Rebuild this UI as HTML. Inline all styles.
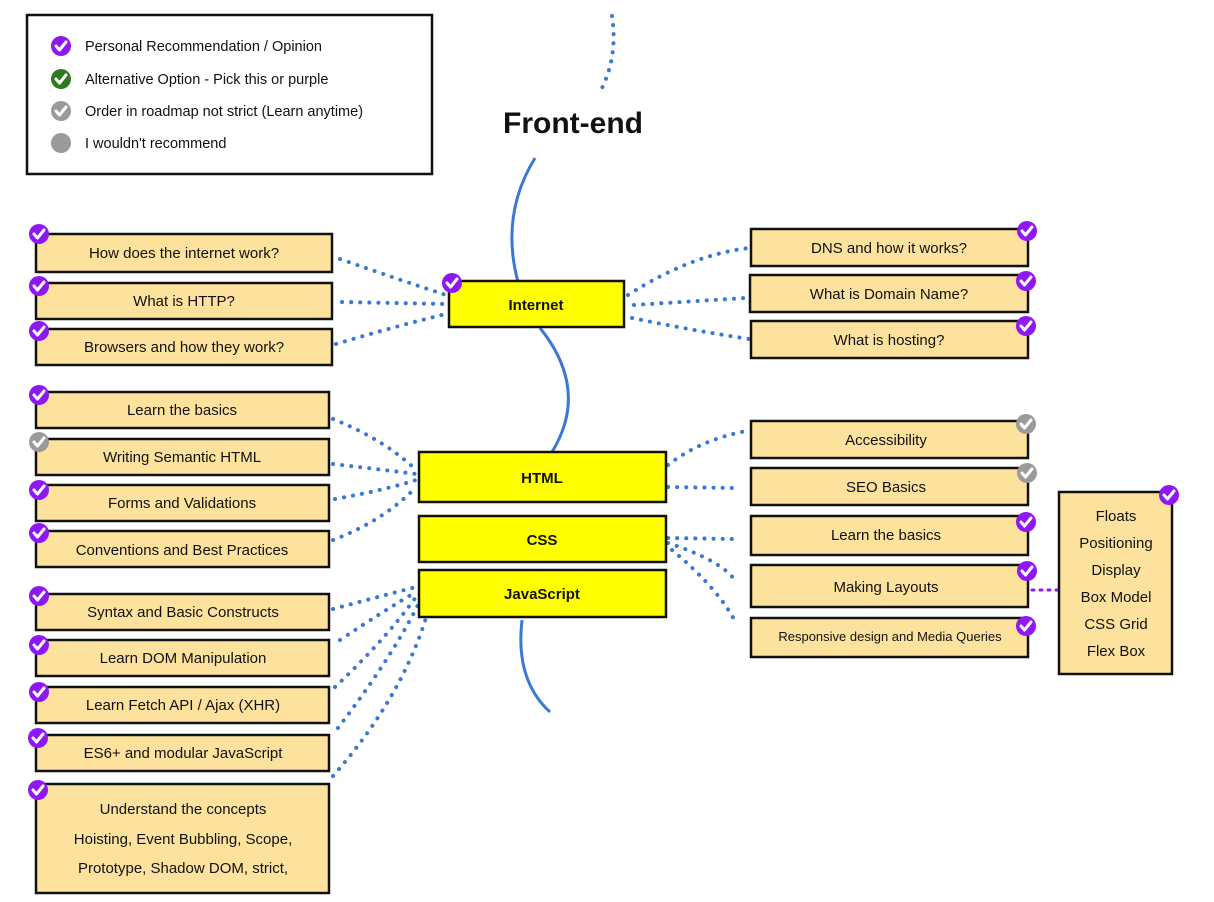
<!DOCTYPE html>
<html><head><meta charset="utf-8"><style>
html,body{margin:0;padding:0;background:#fff;}
svg{display:block;}
text{font-family:"Liberation Sans",sans-serif;font-size:15px;fill:#111;text-anchor:middle;}
.b{fill:#fde29e;stroke:#111;stroke-width:2.5;}
.y{fill:#ffff00;stroke:#111;stroke-width:2.5;}
.d{fill:none;stroke:#3b78d4;stroke-width:4;stroke-linecap:round;stroke-dasharray:0.1 9;}
.s{fill:none;stroke:#3b78d4;stroke-width:3;}
.lt{text-anchor:start;font-size:14.5px;}
</style></head><body>
<svg width="1214" height="902" viewBox="0 0 1214 902" xmlns="http://www.w3.org/2000/svg">
<defs>
<g id="cp"><circle r="10" fill="#8e17f2"/><path d="M-5,0 L-1.5,4 L5,-4" fill="none" stroke="#fff" stroke-width="3" stroke-linecap="round" stroke-linejoin="round"/></g>
<g id="cg"><circle r="10" fill="#9a9a9a"/><path d="M-5,0 L-1.5,4 L5,-4" fill="none" stroke="#fff" stroke-width="3" stroke-linecap="round" stroke-linejoin="round"/></g>
<g id="cgr"><circle r="10" fill="#2f7a1f"/><path d="M-5,0 L-1.5,4 L5,-4" fill="none" stroke="#fff" stroke-width="3" stroke-linecap="round" stroke-linejoin="round"/></g>
</defs>

<rect x="27" y="15" width="405" height="159" fill="#fff" stroke="#111" stroke-width="2.5"/>
<use href="#cp" x="61" y="46"/><use href="#cgr" x="61" y="79"/><use href="#cg" x="61" y="111"/>
<circle cx="61" cy="143" r="10" fill="#9a9a9a"/>
<text class="lt" x="85" y="51">Personal Recommendation / Opinion</text>
<text class="lt" x="85" y="84">Alternative Option - Pick this or purple</text>
<text class="lt" x="85" y="116">Order in roadmap not strict (Learn anytime)</text>
<text class="lt" x="85" y="148">I wouldn't recommend</text>

<path class="d" d="M612,16 Q618,55 602,88"/>
<text x="573" y="133" style="font-size:30px;font-weight:bold">Front-end</text>
<path class="s" d="M535,158 Q500,215 518,282"/>
<path class="s" d="M540,328 Q590,390 552,452"/>
<path class="s" d="M522,620 Q515,680 550,712"/>

<path class="d" d="M340,259 Q400,280 446,295"/>
<path class="d" d="M342,302 L446,304"/>
<path class="d" d="M336,344 Q400,325 446,314"/>
<path class="d" d="M333,419 Q385,440 416,470"/>
<path class="d" d="M333,464 Q385,470 416,474"/>
<path class="d" d="M335,499 Q385,490 416,480"/>
<path class="d" d="M333,540 Q385,520 416,487"/>
<path class="d" d="M333,609 Q385,595 416,587"/>
<path class="d" d="M340,640 Q385,610 416,592"/>
<path class="d" d="M335,687 Q385,640 416,597"/>
<path class="d" d="M338,728 Q390,660 418,605"/>
<path class="d" d="M333,776 Q400,700 426,618"/>
<path class="d" d="M628,295 Q690,255 749,248"/>
<path class="d" d="M634,305 L745,298"/>
<path class="d" d="M632,318 Q690,330 749,339"/>
<path class="d" d="M668,465 Q700,440 746,431"/>
<path class="d" d="M668,487 L733,488"/>
<path class="d" d="M668,538 L733,539"/>
<path class="d" d="M668,543 Q720,560 735,580"/>
<path class="d" d="M672,550 Q720,590 737,625"/>
<path d="M1032,590 L1058,590" stroke="#8e17f2" stroke-width="3" stroke-dasharray="2 6" stroke-linecap="round"/>

<rect class="b" x="36" y="234" width="296" height="38"/><text x="184" y="258">How does the internet work?</text>
<rect class="b" x="36" y="283" width="296" height="36"/><text x="184" y="306">What is HTTP?</text>
<rect class="b" x="36" y="329" width="296" height="36"/><text x="184" y="352">Browsers and how they work?</text>
<rect class="b" x="36" y="392" width="293" height="36"/><text x="182" y="415">Learn the basics</text>
<rect class="b" x="36" y="439" width="293" height="36"/><text x="182" y="462">Writing Semantic HTML</text>
<rect class="b" x="36" y="485" width="293" height="36"/><text x="182" y="508">Forms and Validations</text>
<rect class="b" x="36" y="531" width="293" height="36"/><text x="182" y="555">Conventions and Best Practices</text>
<rect class="b" x="36" y="594" width="293" height="36"/><text x="183" y="617">Syntax and Basic Constructs</text>
<rect class="b" x="36" y="640" width="293" height="36"/><text x="183" y="663">Learn DOM Manipulation</text>
<rect class="b" x="36" y="687" width="293" height="36"/><text x="183" y="710">Learn Fetch API / Ajax (XHR)</text>
<rect class="b" x="36" y="735" width="293" height="36"/><text x="183" y="758">ES6+ and modular JavaScript</text>
<rect class="b" x="36" y="784" width="293" height="109"/>
<text x="183" y="814">Understand the concepts</text>
<text x="183" y="844">Hoisting, Event Bubbling, Scope,</text>
<text x="183" y="873">Prototype, Shadow DOM, strict,</text>
<use href="#cp" x="39" y="234"/><use href="#cp" x="39" y="286"/><use href="#cp" x="39" y="331"/>
<use href="#cp" x="39" y="395"/><use href="#cg" x="39" y="442"/><use href="#cp" x="39" y="490"/><use href="#cp" x="39" y="533"/>
<use href="#cp" x="39" y="596"/><use href="#cp" x="39" y="645"/><use href="#cp" x="39" y="692"/><use href="#cp" x="38" y="738"/><use href="#cp" x="38" y="790"/>

<rect class="y" x="449" y="281" width="175" height="46"/><text x="536" y="310" style="font-weight:bold">Internet</text>
<use href="#cp" x="452" y="283"/>
<rect class="y" x="419" y="452" width="247" height="50"/><text x="542" y="483" style="font-weight:bold">HTML</text>
<rect class="y" x="419" y="516" width="247" height="46"/><text x="542" y="545" style="font-weight:bold">CSS</text>
<rect class="y" x="419" y="570" width="247" height="47"/><text x="542" y="599" style="font-weight:bold">JavaScript</text>

<rect class="b" x="751" y="229" width="277" height="37"/><text x="889" y="253">DNS and how it works?</text>
<rect class="b" x="750" y="275" width="278" height="37"/><text x="889" y="299">What is Domain Name?</text>
<rect class="b" x="751" y="321" width="277" height="37"/><text x="889" y="345">What is hosting?</text>
<rect class="b" x="751" y="421" width="277" height="37"/><text x="886" y="445">Accessibility</text>
<rect class="b" x="751" y="468" width="277" height="37"/><text x="886" y="492">SEO Basics</text>
<rect class="b" x="751" y="516" width="277" height="39"/><text x="886" y="540">Learn the basics</text>
<rect class="b" x="751" y="565" width="277" height="42"/><text x="886" y="592">Making Layouts</text>
<rect class="b" x="751" y="618" width="277" height="39"/><text x="890" y="641" style="font-size:13px">Responsive design and Media Queries</text>
<use href="#cp" x="1027" y="231"/><use href="#cp" x="1026" y="281"/><use href="#cp" x="1026" y="326"/>
<use href="#cg" x="1026" y="424"/><use href="#cg" x="1027" y="473"/><use href="#cp" x="1026" y="522"/><use href="#cp" x="1027" y="571"/><use href="#cp" x="1026" y="626"/>
<rect class="b" x="1059" y="492" width="113" height="182"/>
<text x="1116" y="521">Floats</text><text x="1116" y="548">Positioning</text><text x="1116" y="575">Display</text>
<text x="1116" y="602">Box Model</text><text x="1116" y="629">CSS Grid</text><text x="1116" y="656">Flex Box</text>
<use href="#cp" x="1169" y="495"/>
</svg>
</body></html>
